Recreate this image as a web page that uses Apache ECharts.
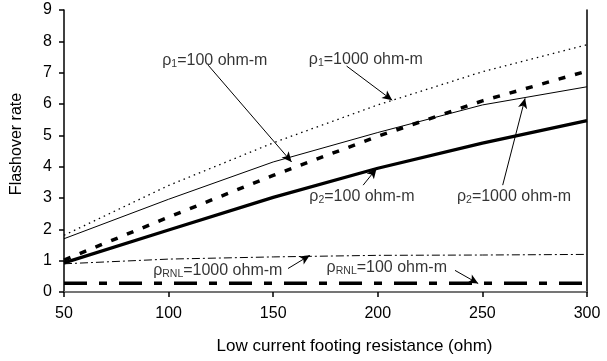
<!DOCTYPE html>
<html><head><meta charset="utf-8">
<script src="https://cdn.jsdelivr.net/npm/echarts@6/dist/echarts.min.js"></script>
<style>html,body{margin:0;padding:0;background:#fff}#c{width:607px;height:361px}</style>
</head><body><div id="c"></div>
<script>
// ---- data ----
const resistance = [50, 100, 150, 200, 250, 300];
const rho1_1000 = [1.81, 3.40, 4.76, 5.97, 7.03, 7.89];
const rho1_100 = [1.70, 2.96, 4.15, 5.09, 5.97, 6.55];
const rho2_1000 = [1.02, 2.39, 3.72, 4.97, 6.10, 7.05];
const rho2_100 = [0.93, 1.98, 3.02, 3.95, 4.75, 5.47];
const rhoRNL_1000 = [0.90, 1.05, 1.12, 1.17, 1.18, 1.20];
const rhoRNL_100 = [0.28, 0.28, 0.28, 0.28, 0.28, 0.28];
const xTickLabels = ['50', '100', '150', '200', '250', '300'];
const yTickLabels = ['0', '1', '2', '3', '4', '5', '6', '7', '8', '9'];

// annotation texts (rich markup) and their anchor / arrow coordinates in data units
const annTexts = [
  '{r|ρ}{s|1}{r|=100 ohm-m}',
  '{r|ρ}{s|1}{r|=1000 ohm-m}',
  '{r|ρ}{s|2}{r|=100 ohm-m}',
  '{r|ρ}{s|2}{r|=1000 ohm-m}',
  '{r|ρ}{s|RNL}{r|=1000 ohm-m}',
  '{r|ρ}{s|RNL}{r|=100 ohm-m}'
];
const annAt = [[122.1, 7.40], [194.3, 7.43], [192.4, 3.06], [265.1, 3.06], [123.5, 0.69], [204.3, 0.79]];
const arrowFrom = [[118.9, 7.24], [185.1, 7.21], [193.0, 3.41], [259.7, 3.41], [157.1, 0.75], [236.9, 0.69]];
const arrowTo = [[158.8, 4.15], [206.9, 6.12], [199.4, 3.94], [270.4, 6.18], [167.5, 1.17], [248.0, 0.27]];

const FONT = 'Liberation Sans, Arial, sans-serif';
const pts = arr => resistance.map((x, i) => [x, arr[i]]);

const chart = echarts.init(document.getElementById('c'), null, {renderer: 'canvas'});
chart.setOption({
  animation: false,
  backgroundColor: '#fff',
  grid: {left: 64, right: 20, top: 10, bottom: 69},
  xAxis: [{
    type: 'value', min: 50, max: 300, interval: 50,
    name: 'Low current footing resistance (ohm)', nameLocation: 'middle', nameGap: 46,
    nameTextStyle: {fontFamily: FONT, fontSize: 17, color: '#000', padding: [0, 0, 0, 58]},
    axisLine: {lineStyle: {color: '#000', width: 1.5}},
    axisTick: {show: true, inside: false, length: 5, lineStyle: {color: '#000', width: 1.5}},
    axisLabel: {fontFamily: FONT, fontSize: 16, color: '#000', margin: 14,
      formatter: v => xTickLabels[resistance.indexOf(v)] ?? String(v)},
    splitLine: {show: false}
  }, {
    type: 'value', min: 50, max: 300, position: 'top',
    axisLine: {show: true, lineStyle: {color: '#888', width: 1.5}},
    axisTick: {show: false}, axisLabel: {show: false}, splitLine: {show: false}
  }],
  yAxis: [{
    type: 'value', min: 0, max: 9, interval: 1,
    name: 'Flashover rate', nameLocation: 'middle', nameGap: 39,
    nameTextStyle: {fontFamily: FONT, fontSize: 16, color: '#000', padding: [0, 0, 0, 14]},
    axisLine: {show: true, lineStyle: {color: '#000', width: 1.5}},
    axisTick: {show: true, inside: false, length: 5, lineStyle: {color: '#000', width: 1.5}},
    axisLabel: {fontFamily: FONT, fontSize: 16, color: '#000', margin: 12,
      formatter: v => yTickLabels[v] ?? String(v)},
    splitLine: {show: false}
  }, {
    type: 'value', min: 0, max: 9, position: 'right',
    axisLine: {show: true, lineStyle: {color: '#000', width: 1.5}},
    axisTick: {show: false}, axisLabel: {show: false}, splitLine: {show: false}
  }],
  series: [
    {type: 'line', name: 'rho1_1000', data: pts(rho1_1000), symbol: 'none',
      lineStyle: {color: '#000', width: 1.3, type: [1.5, 4]}},
    {type: 'line', name: 'rho1_100', data: pts(rho1_100), symbol: 'none',
      lineStyle: {color: '#000', width: 1}},
    {type: 'line', name: 'rho2_1000', data: pts(rho2_1000), symbol: 'none',
      lineStyle: {color: '#000', width: 3.5, type: [7, 10]}},
    {type: 'line', name: 'rho2_100', data: pts(rho2_100), symbol: 'none',
      lineStyle: {color: '#000', width: 3.2}},
    {type: 'line', name: 'rhoRNL_1000', data: pts(rhoRNL_1000), symbol: 'none',
      lineStyle: {color: '#000', width: 1, type: [8, 3, 2, 3]}},
    {type: 'line', name: 'rhoRNL_100', data: pts(rhoRNL_100), symbol: 'none',
      lineStyle: {color: '#000', width: 3.5, type: [23, 12, 8, 12]},
      markLine: {
        silent: true, animation: false,
        symbol: ['none', 'arrow'], symbolSize: [7, 10],
        label: {show: false},
        lineStyle: {color: '#000', width: 1, type: 'solid'},
        emphasis: {disabled: true},
        data: arrowFrom.map((f, i) => [{coord: f}, {coord: arrowTo[i]}])
      }},
    {type: 'scatter', name: 'labels', silent: true, symbolSize: 0,
      data: annAt.map((p, i) => ({value: p, txt: annTexts[i]})),
      label: {show: true, position: 'inside', align: 'center', verticalAlign: 'middle',
        formatter: p => p.data.txt,
        rich: {
          r: {fontFamily: FONT, fontSize: 16, color: '#000', lineHeight: 19},
          s: {fontFamily: FONT, fontSize: 10.5, color: '#000', lineHeight: 19, verticalAlign: 'bottom', padding: [3, 0, 0, 0]}
        }}}
  ]
});
</script></body></html>
